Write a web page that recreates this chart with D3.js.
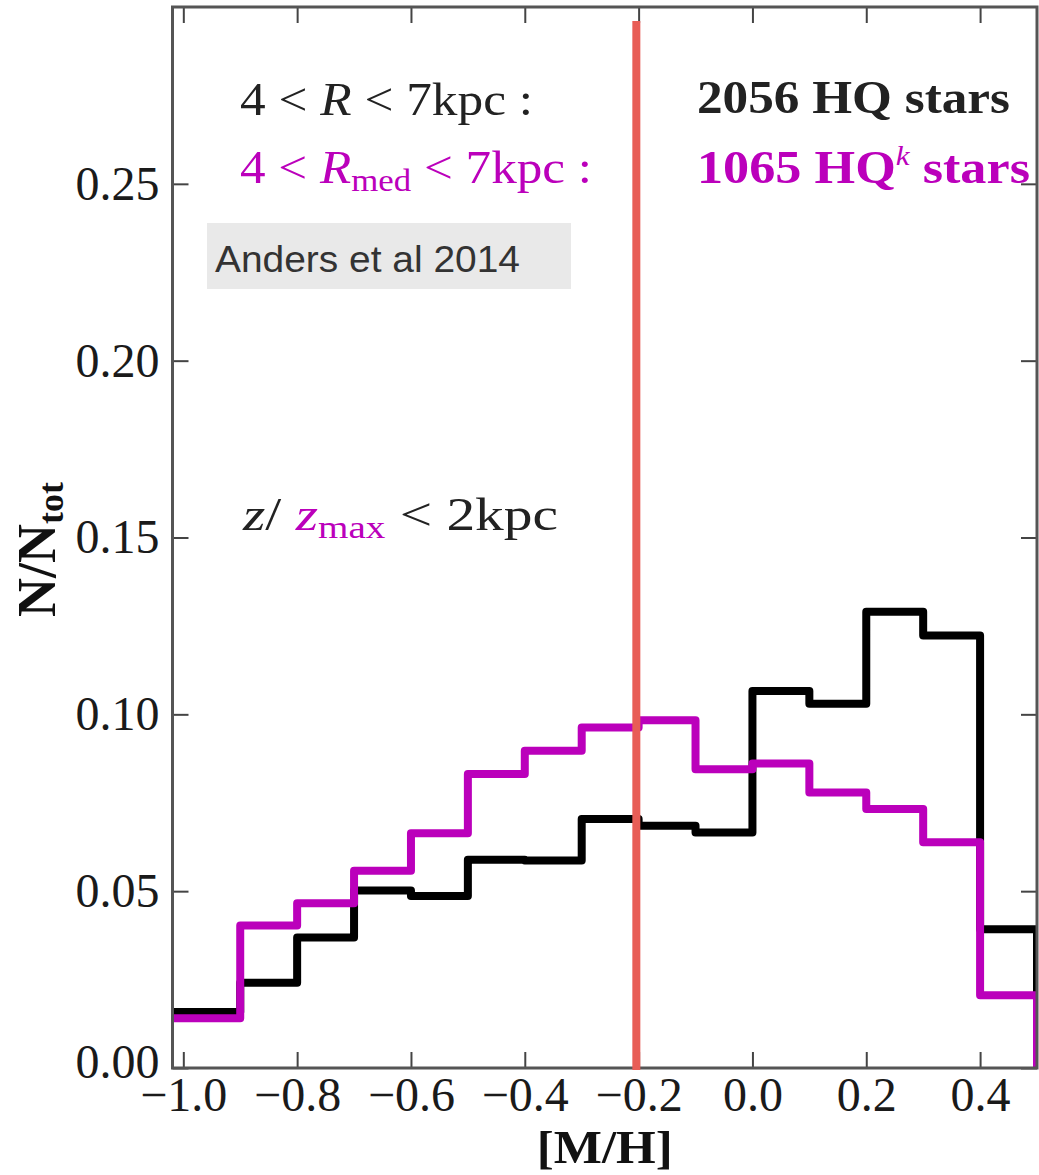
<!DOCTYPE html>
<html>
<head>
<meta charset="utf-8">
<script src="https://cdn.jsdelivr.net/npm/d3@7"></script>
<style>
  html, body { margin: 0; padding: 0; background: #fff; }
  svg { display: block; font-family: "Liberation Serif", "DejaVu Serif", serif; }
</style>
</head>
<body>
<svg id="chart" width="1039" height="1175"></svg>
<script>
// ---- data ----
const binStarts = [-1.0, -0.9, -0.8, -0.7, -0.6, -0.5, -0.4, -0.3, -0.2, -0.1, 0.0, 0.1, 0.2, 0.3, 0.4];
const binEnd = 0.5;
const hqValues  = [0.0158, 0.0241, 0.0369, 0.0502, 0.0486, 0.0589, 0.0587, 0.0704, 0.0685, 0.0666, 0.1066, 0.1030, 0.1290, 0.1223, 0.0392];
const hqkValues = [0.0141, 0.0403, 0.0466, 0.0558, 0.0664, 0.0831, 0.0897, 0.0963, 0.0983, 0.0845, 0.0861, 0.0779, 0.0732, 0.0638, 0.0206];
const markerX = -0.204;
const xTicks = [-1.0, -0.8, -0.6, -0.4, -0.2, 0.0, 0.2, 0.4];
const yTicks = [0.00, 0.05, 0.10, 0.15, 0.20, 0.25];
const xDomain = [-1.019, 0.5];
const yDomain = [0, 0.3];

// ---- layout ----
const L = 172.5, R = 1037, T = 7, B = 1068;
const svg = d3.select("#chart");
const x = d3.scaleLinear().domain(xDomain).range([L, R]);
const y = d3.scaleLinear().domain(yDomain).range([B, T]);

svg.append("defs").append("clipPath").attr("id", "plotclip")
  .append("rect").attr("x", L).attr("y", T).attr("width", R - L).attr("height", B - T);

const plot = svg.append("g").attr("clip-path", "url(#plotclip)");

function stepPoints(vals) {
  const pts = vals.map((v, i) => [i === 0 ? xDomain[0] - 0.05 : binStarts[i], v]);
  pts.push([binEnd, -0.01]);
  return pts;
}
const line = d3.line().x(d => x(d[0])).y(d => y(d[1])).curve(d3.curveStepAfter);

plot.append("path").attr("d", line(stepPoints(hqValues)))
  .attr("fill", "none").attr("stroke", "#000").attr("stroke-width", 8)
  .attr("stroke-linejoin", "round");
plot.append("path").attr("d", line(stepPoints(hqkValues)))
  .attr("fill", "none").attr("stroke", "#bb00bb").attr("stroke-width", 8)
  .attr("stroke-linejoin", "round");

// ---- axes ----
const tickLen = 16;
const axB = svg.append("g").attr("transform", `translate(0,${B})`)
  .call(d3.axisBottom(x).tickValues(xTicks).tickSizeInner(-tickLen).tickSizeOuter(0).tickPadding(9).tickFormat(d3.format(".1f")));
const axT = svg.append("g").attr("transform", `translate(0,${T})`)
  .call(d3.axisTop(x).tickValues(xTicks).tickSizeInner(-tickLen).tickSizeOuter(0).tickFormat(""));
const axL = svg.append("g").attr("transform", `translate(${L},0)`)
  .call(d3.axisLeft(y).tickValues(yTicks).tickSizeInner(-tickLen).tickSizeOuter(0).tickPadding(13).tickFormat(d3.format(".2f")));
const axR = svg.append("g").attr("transform", `translate(${R},0)`)
  .call(d3.axisRight(y).tickValues(yTicks).tickSizeInner(-tickLen).tickSizeOuter(0).tickFormat(""));
[axB, axT, axL, axR].forEach(g => {
  g.select(".domain").remove();
  g.attr("font-family", "Liberation Serif");
  g.selectAll(".tick line").attr("stroke", "#444").attr("stroke-width", 2);
  g.selectAll("text").attr("font-size", 48).attr("fill", "#1a1a1a");
});
axL.selectAll(".tick").filter(d => d === 0).select("text").attr("dy", "0.2em");

// frame
svg.append("rect").attr("x", L).attr("y", T).attr("width", R - L).attr("height", B - T)
  .attr("fill", "none").attr("stroke", "#555").attr("stroke-width", 3);

// red marker line
svg.append("line").attr("x1", x(markerX)).attr("x2", x(markerX))
  .attr("y1", 21).attr("y2", 1070)
  .attr("stroke", "#e85d56").attr("stroke-width", 8);

// ---- axis labels ----
svg.append("text").attr("x", (L + R) / 2).attr("y", 1163).attr("text-anchor", "middle")
  .attr("font-size", 46).attr("font-weight", "bold").attr("fill", "#111")
  .attr("textLength", 136).attr("lengthAdjust", "spacingAndGlyphs").text("[M/H]");

const yl = svg.append("text").attr("transform", "translate(55,617) rotate(-90)")
  .attr("font-size", 54).attr("font-weight", "bold").attr("fill", "#111");
yl.append("tspan").text("N/N");
yl.append("tspan").attr("font-size", 36).attr("dy", 8).text("tot");

// ---- annotations ----
const dark = "#222", mag = "#bb00bb";
function mathLine(xp, yp, len, parts, size) {
  const t = svg.append("text").attr("x", xp).attr("y", yp).attr("font-size", size)
    .attr("textLength", len).attr("lengthAdjust", "spacingAndGlyphs");
  parts.forEach(p => {
    const s = t.append("tspan").text(p.t).attr("fill", p.c || dark);
    if (p.i) s.attr("font-style", "italic");
    if (p.b) s.attr("font-weight", "bold");
    if (p.fs) s.attr("font-size", p.fs);
    if (p.dy) s.attr("dy", p.dy);
  });
  return t;
}
mathLine(240, 115, 293, [{t: "4 < "}, {t: "R", i: true}, {t: " < 7kpc :"}], 47);
mathLine(240, 183, 352, [
  {t: "4 < ", c: mag}, {t: "R", i: true, c: mag},
  {t: "med", c: mag, fs: 32, dy: 8}, {t: " < 7kpc :", c: mag, dy: -8}], 47);
mathLine(697, 113, 313, [{t: "2056 HQ stars", b: true}], 47);
mathLine(697, 183, 333, [
  {t: "1065 HQ", b: true, c: mag}, {t: "k", i: true, c: mag, fs: 28, dy: -18},
  {t: " stars", b: true, c: mag, dy: 18}], 47);
mathLine(243, 530, 315, [
  {t: "z", i: true}, {t: "/ "}, {t: "z", i: true, c: mag},
  {t: "max", c: mag, fs: 32, dy: 8}, {t: " < 2kpc", dy: -8}], 47);

// Anders et al box
svg.append("rect").attr("x", 207).attr("y", 223).attr("width", 364).attr("height", 66).attr("fill", "#e9e9e9");
svg.append("text").attr("x", 215).attr("y", 272).attr("font-size", 37)
  .style("font-family", "'Liberation Sans', Arial, sans-serif")
  .attr("fill", "#333").attr("textLength", 305).attr("lengthAdjust", "spacingAndGlyphs")
  .text("Anders et al 2014");
</script>
</body>
</html>
